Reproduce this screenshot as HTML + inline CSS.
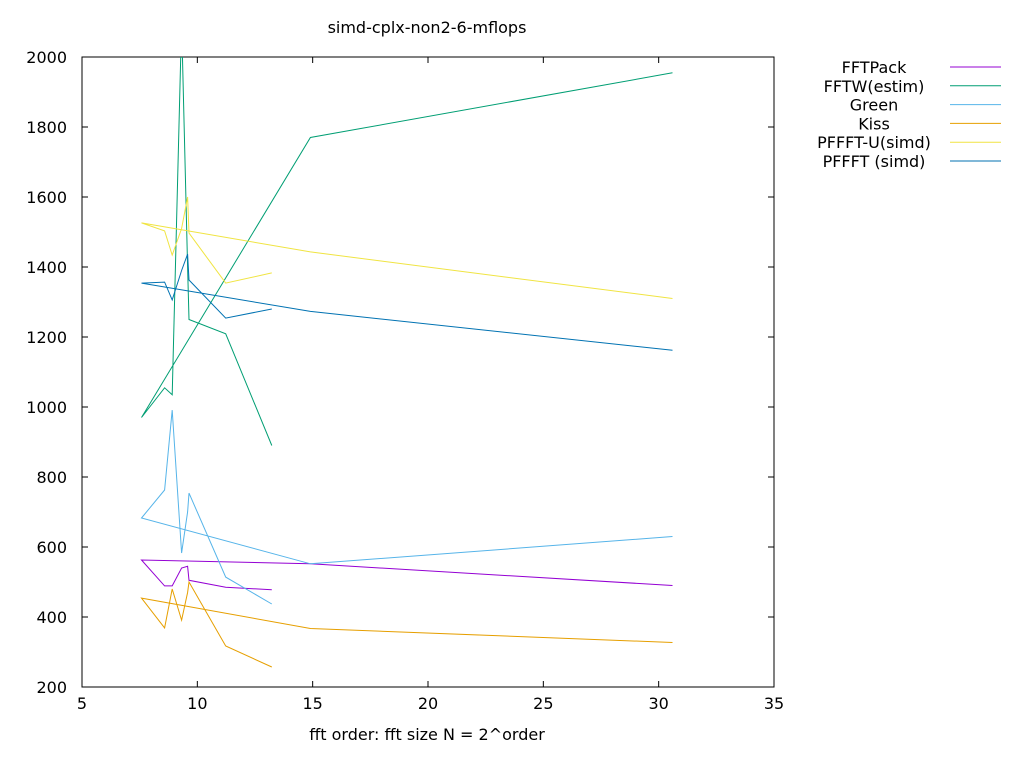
<!DOCTYPE html>
<html><head><meta charset="utf-8"><style>
body{margin:0;background:#fff;}
svg text{font-family:"DejaVu Sans","Liberation Sans",sans-serif;font-size:16px;fill:#000;}
</style></head><body>
<svg id="chart" width="1024" height="768" xmlns="http://www.w3.org/2000/svg">
<defs><clipPath id="pc"><rect x="82" y="57" width="692" height="630"/></clipPath></defs>
<text x="427" y="33" text-anchor="middle">simd-cplx-non2-6-mflops</text>
<text x="427" y="740" text-anchor="middle">fft order: fft size N = 2^order</text>
<g id="axes"></g>
<g id="series" clip-path="url(#pc)"></g>
<g id="legend"></g>
</svg>
<script>
const xValues=[30.6,14.9,7.58,8.58,8.91,9.32,9.58,9.64,11.23,13.23];
const seriesNames=["FFTPack","FFTW(estim)","Green","Kiss","PFFFT-U(simd)","PFFFT (simd)"];
const seriesColors=["#9400d3","#009e73","#56b4e9","#e69f00","#f0e442","#0072b2"];
const fftpack=[490,552,563,489,489,540,545,505,485,478];
const fftw=[1955,1770,970,1055,1035,2100,1400,1250,1209,890];
const green=[630,552,683,763,991,583,700,754,514,437];
const kiss=[327,367,454,369,480,391,470,500,317,257];
const pffftu=[1310,1443,1526,1503,1434,1510,1600,1497,1354,1383];
const pffft=[1162,1273,1354,1357,1306,1390,1437,1363,1254,1280];
const seriesData=[fftpack,fftw,green,kiss,pffftu,pffft];
const xTicks=[5,10,15,20,25,30,35];
const yTicks=[200,400,600,800,1000,1200,1400,1600,1800,2000];
const NS="http://www.w3.org/2000/svg";
const X0=82,X1=774,Y0=687,Y1=57;
const xs=v=>X0+(v-5)/30*(X1-X0);
const ys=v=>Y0-(v-200)/1800*(Y0-Y1);
function mk(t,a,p){const e=document.createElementNS(NS,t);for(const k in a)e.setAttribute(k,a[k]);p.appendChild(e);return e;}
const ax=document.getElementById('axes');
const frame=mk('rect',{x:X0,y:Y1,width:X1-X0,height:Y0-Y1,fill:'none',stroke:'#000','stroke-width':1},ax);


xTicks.forEach(t=>{const x=xs(t);
mk('line',{x1:x,x2:x,y1:Y0,y2:Y0-6,stroke:'#000'},ax);
mk('line',{x1:x,x2:x,y1:Y1,y2:Y1+6,stroke:'#000'},ax);
const tx=mk('text',{x:x,y:Y0+22,'text-anchor':'middle'},ax);tx.textContent=t;

});
yTicks.forEach(t=>{const y=ys(t);
mk('line',{x1:X0,x2:X0+6,y1:y,y2:y,stroke:'#000'},ax);
mk('line',{x1:X1,x2:X1-6,y1:y,y2:y,stroke:'#000'},ax);
const tx=mk('text',{x:X0-15,y:y+6,'text-anchor':'end'},ax);tx.textContent=t;

});
const sg=document.getElementById('series'),lg=document.getElementById('legend');
seriesData.forEach((d,i)=>{
const pts=d.map((v,j)=>xs(xValues[j]).toFixed(1)+','+ys(v).toFixed(1)).join(' ');
const pl=mk('polyline',{points:pts,fill:'none',stroke:seriesColors[i],'stroke-width':1},sg);


const ly=67+i*18.8;
const lt=mk('text',{x:874,y:ly+6,'text-anchor':'middle'},lg);lt.textContent=seriesNames[i];


const ll=mk('line',{x1:950,x2:1001,y1:ly,y2:ly,stroke:seriesColors[i]},lg);


});
</script>
</body></html>
